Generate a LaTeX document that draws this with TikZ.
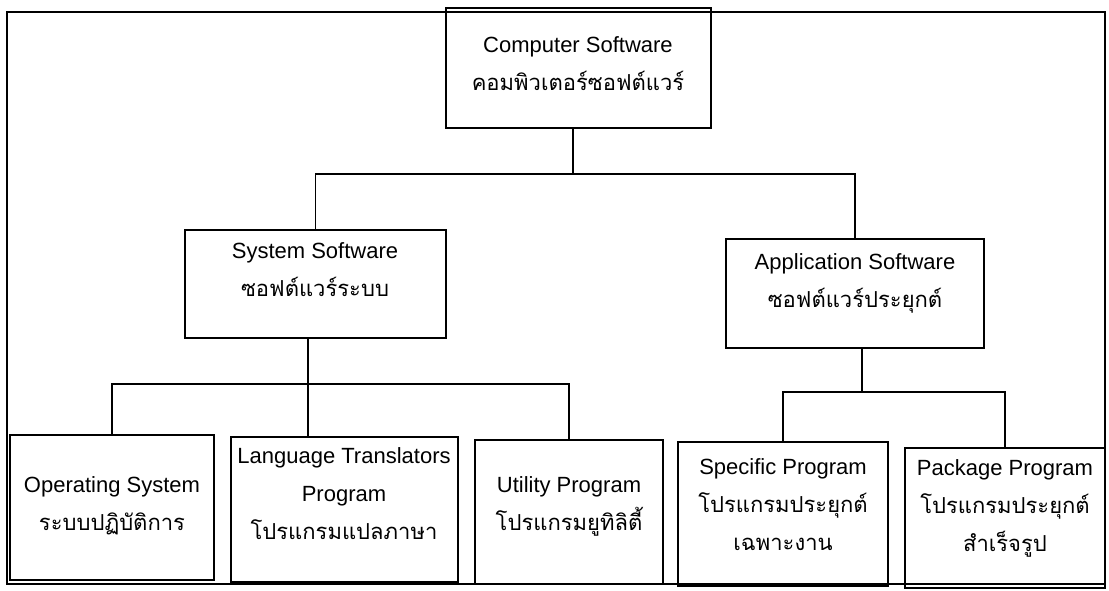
\documentclass[tikz,border=0pt]{standalone}
\usepackage{fontspec}
\setmainfont{Liberation Sans}
\newfontfamily\thaifont[Script=Thai]{Loma}
\usetikzlibrary{fit}
\begin{document}
\begin{tikzpicture}[x=1pt,y=-1pt,line width=1.6pt,
  box/.style={draw,inner sep=0pt},
  lbl/.style={align=center,inner sep=0pt,font=\fontsize{22}{38}\selectfont}]
\useasboundingbox (0,0) rectangle (1109,590);
% outer frame
\draw (7,12) rectangle (1105,584);
% boxes
\node[box,fit={(446,8)(711,128)}] (cs) {};
\node[box,fit={(185,230)(446,338)}] (sys) {};
\node[box,fit={(726,239)(984,348)}] (app) {};
\node[box,fit={(10,435)(214,580)}] (os) {};
\node[box,fit={(231,437)(458,582)}] (lt) {};
\node[box,fit={(475,440)(663,584)}] (ut) {};
\node[box,fit={(678,442)(888,586)}] (sp) {};
\node[box,fit={(905,448)(1105,588)}] (pk) {};
% texts
\node[lbl] (cst) at (578,64) {Computer Software\\{\thaifont คอมพิวเตอร์ซอฟต์แวร์}};
\node[lbl] (syst) at (315,270) {System Software\\{\thaifont ซอฟต์แวร์ระบบ}};
\node[lbl] (appt) at (855,283) {Application Software\\{\thaifont ซอฟต์แวร์ประยุกต์}};
\node[lbl] (ost) at (112,506) {Operating System\\{\thaifont ระบบปฏิบัติการ}};
\node[lbl] (ltt) at (344,494) {Language Translators\\Program\\{\thaifont โปรแกรมแปลภาษา}};
\node[lbl] (utt) at (569,506) {Utility Program\\{\thaifont โปรแกรมยูทิลิตี้}};
\node[lbl] (spt) at (783,505) {Specific Program\\{\thaifont โปรแกรมประยุกต์}\\{\thaifont เฉพาะงาน}};
\node[lbl] (pkt) at (1005,508) {Package Program\\{\thaifont โปรแกรมประยุกต์}\\{\thaifont สำเร็จรูป}};
% connectors
\coordinate (j1) at (573,174);
\coordinate (j2) at (308,384);
\coordinate (j3) at (862,392);
\draw (cs.south -| j1) -- (j1);
\draw (sys.north) |- (j1) -| (app.north);
\draw (sys.south -| j2) -- (j2 |- lt.north);
\draw (os.north) |- (j2) -| (ut.north);
\draw (app.south -| j3) -- (j3);
\draw (sp.north) |- (j3) -| (pk.north);
\end{tikzpicture}
\end{document}
